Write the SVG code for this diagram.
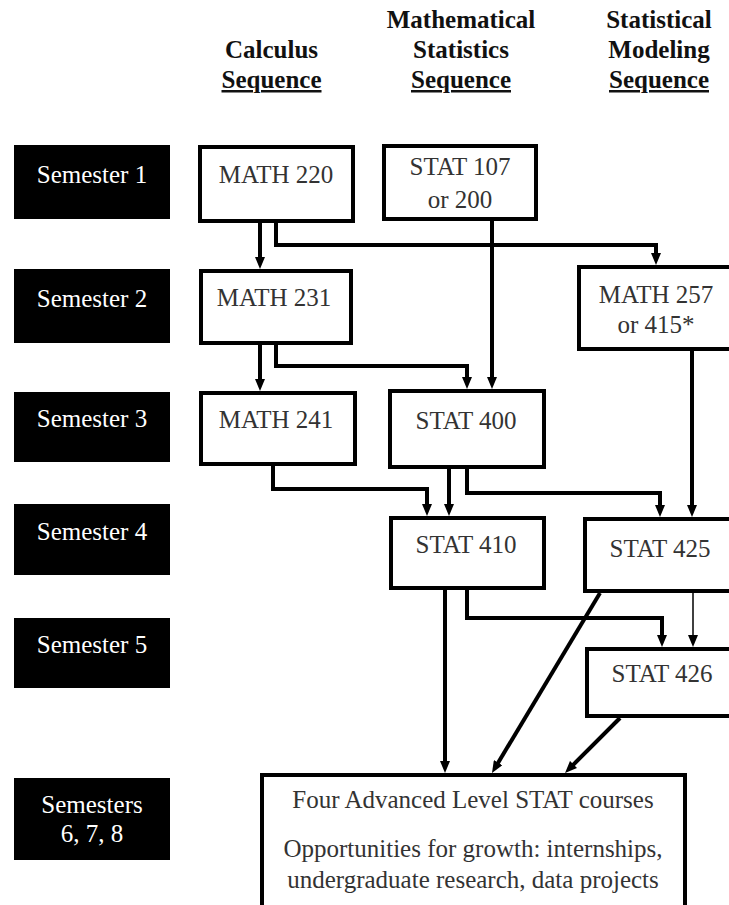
<svg xmlns="http://www.w3.org/2000/svg" width="729" height="905" viewBox="0 0 729 905">
<style>
.hdr{font-family:"Liberation Serif","Times New Roman",serif;font-weight:bold;font-size:25px;fill:#111;text-anchor:middle}
.ul{text-decoration:underline}
.sem rect{fill:#000;stroke:none}
.sem text{font-family:"Liberation Serif","Times New Roman",serif;font-size:25px;fill:#fff;text-anchor:middle}
.node rect{fill:#fff;stroke:#000;stroke-width:4}
.node text{font-family:"Liberation Serif","Times New Roman",serif;font-size:25px;fill:#333;text-anchor:middle}
.conn path{fill:none;stroke:#000;stroke-width:4}
.conn path.thin{stroke-width:1.5}
</style>
<defs>
<marker id="ah" markerUnits="userSpaceOnUse" markerWidth="12" markerHeight="10" refX="4" refY="5" orient="auto">
<path d="M0,0 L12,5 L0,10 z" fill="#000"/>
</marker>
<marker id="ahThin" markerUnits="userSpaceOnUse" markerWidth="12" markerHeight="10" refX="1" refY="5" orient="auto">
<path d="M0,0 L12,5 L0,10 z" fill="#000"/>
</marker>
</defs>
<rect width="729" height="905" fill="#fff"/>

<g id="headers">
<text class="hdr" x="271.5" y="58">Calculus</text>
<text class="hdr ul" x="271.5" y="88">Sequence</text>
<text class="hdr" x="461" y="28">Mathematical</text>
<text class="hdr" x="461" y="58">Statistics</text>
<text class="hdr ul" x="461" y="88">Sequence</text>
<text class="hdr" x="659" y="28">Statistical</text>
<text class="hdr" x="659" y="58">Modeling</text>
<text class="hdr ul" x="659" y="88">Sequence</text>
</g>

<g id="sem1" class="sem"><rect x="14" y="145" width="156" height="74"/><text x="92" y="183">Semester 1</text></g>
<g id="sem2" class="sem"><rect x="14" y="269" width="156" height="74"/><text x="92" y="307">Semester 2</text></g>
<g id="sem3" class="sem"><rect x="14" y="392" width="156" height="70"/><text x="92" y="427">Semester 3</text></g>
<g id="sem4" class="sem"><rect x="14" y="504" width="156" height="71"/><text x="92" y="540">Semester 4</text></g>
<g id="sem5" class="sem"><rect x="14" y="618" width="156" height="70"/><text x="92" y="653">Semester 5</text></g>
<g id="sem678" class="sem"><rect x="14" y="778" width="156" height="82"/><text x="92" y="813">Semesters</text><text x="92" y="842">6, 7, 8</text></g>

<g id="connectors" class="conn">
<path d="M260,223 V261" marker-end="url(#ah)"/>
<path d="M276,223 V245 H656 V257" marker-end="url(#ah)"/>
<path d="M492,221 V381" marker-end="url(#ah)"/>
<path d="M260,345 V383" marker-end="url(#ah)"/>
<path d="M276,345 V366 H467 V381" marker-end="url(#ah)"/>
<path d="M273,466 V489 H427 V508" marker-end="url(#ah)"/>
<path d="M449,469 V508" marker-end="url(#ah)"/>
<path d="M467,469 V493 H660 V509" marker-end="url(#ah)"/>
<path d="M692,351 V509" marker-end="url(#ah)"/>
<path d="M445,590 V765" marker-end="url(#ah)"/>
<path d="M467,590 V618 H662 V639" marker-end="url(#ah)"/>
<path class="thin" d="M693,593 V636" marker-end="url(#ahThin)"/>
<path d="M600,593 L496.1,766.1" marker-end="url(#ah)"/>
<path d="M620,718 L570.7,767.3" marker-end="url(#ah)"/>
</g>

<g id="math220" class="node"><rect x="200" y="147" width="153" height="74"/><text x="276" y="183">MATH 220</text></g>
<g id="stat107" class="node"><rect x="384" y="146" width="152" height="73"/><text x="460" y="175">STAT 107</text><text x="460" y="208">or 200</text></g>
<g id="math231" class="node"><rect x="201" y="271" width="150" height="72"/><text x="274" y="306">MATH 231</text></g>
<g id="math257" class="node"><rect x="579" y="267" width="160" height="82"/><text x="656" y="303">MATH 257</text><text x="656" y="333">or 415*</text></g>
<g id="math241" class="node"><rect x="201" y="393" width="154" height="71"/><text x="276" y="428">MATH 241</text></g>
<g id="stat400" class="node"><rect x="390" y="391" width="154" height="76"/><text x="466" y="429">STAT 400</text></g>
<g id="stat410" class="node"><rect x="391" y="518" width="153" height="70"/><text x="466" y="553">STAT 410</text></g>
<g id="stat425" class="node"><rect x="585" y="519" width="160" height="72"/><text x="660" y="557">STAT 425</text></g>
<g id="stat426" class="node"><rect x="587" y="649" width="160" height="67"/><text x="662" y="682">STAT 426</text></g>
<g id="advanced" class="node"><rect x="262" y="775" width="423" height="140"/><text x="473" y="808">Four Advanced Level STAT courses</text><text x="473" y="857">Opportunities for growth: internships,</text><text x="473" y="888">undergraduate research, data projects</text></g>
</svg>
